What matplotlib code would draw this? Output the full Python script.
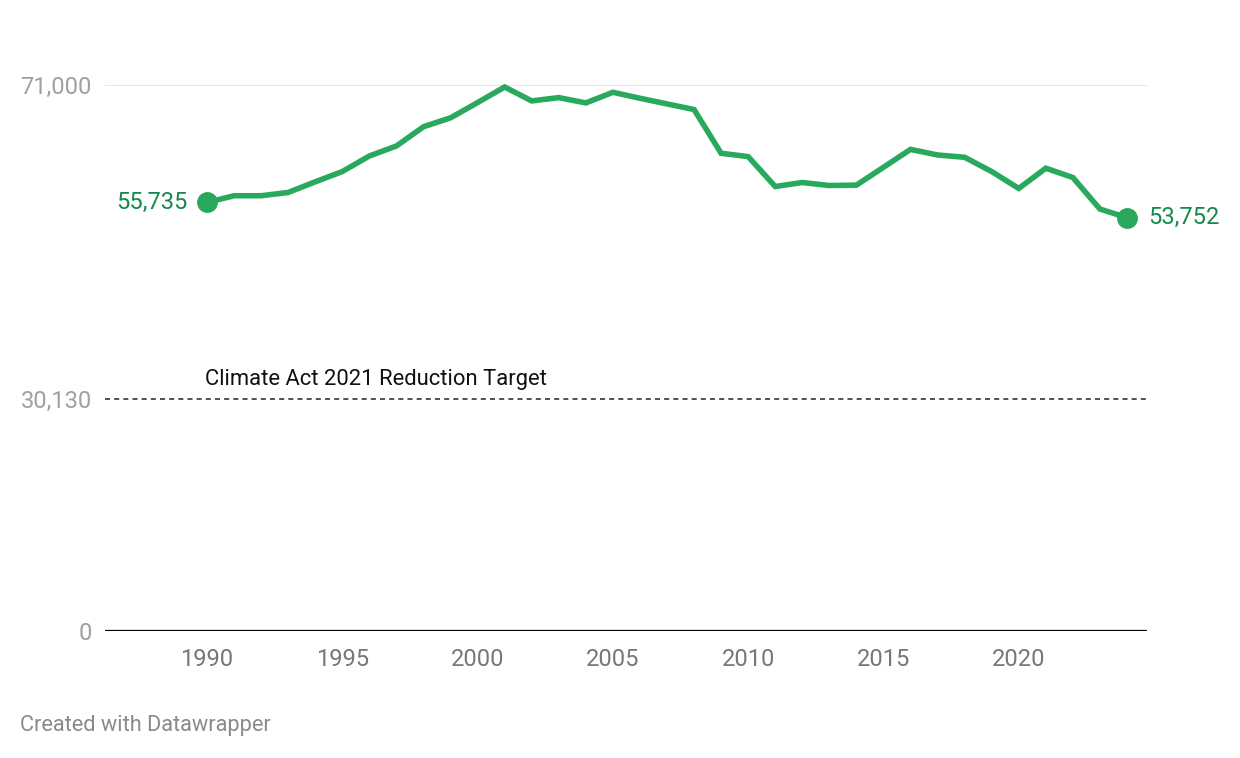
import matplotlib.pyplot as plt
from matplotlib.ticker import FixedLocator, FixedFormatter

plt.rcParams['font.family'] = ['Roboto', 'DejaVu Sans']

# emissions by year
years = list(range(1990, 2025))
values = [55735, 56600, 56600, 57030, 58410, 59745, 61770, 63070, 65570, 66730,
          68715, 70740, 68930, 69360, 68670, 70050, 69280, 68540, 67810, 62120,
          61690, 57800, 58320, 57930, 57980, 60300, 62630, 61900, 61600, 59745,
          57550, 60180, 58970, 54870, 53752]

target = 30130
target_label = "Climate Act 2021 Reduction Target"
y_ticks = [0, 30130, 71000]
y_tick_labels = ["0", "30,130", "71,000"]
x_ticks = [1990, 1995, 2000, 2005, 2010, 2015, 2020]

green = '#29a95d'
green_text = '#15894a'
grey = '#a0a0a0'

fig = plt.figure(figsize=(12.4, 7.58), dpi=100)
ax = fig.add_axes([105/1240, 1 - 631/758, (1147-105)/1240, (631-85)/758])

ax.set_xlim(1986.23, 2024.74)
ax.set_ylim(0, 71000)

# gridline at top, target line, baseline
ax.axhline(71000, color='#e3e3e3', lw=1.3, zorder=1)
ax.axhline(target, color='#333333', lw=1.2, ls=(0, (3, 2.5)), zorder=1)
ax.axhline(0, color='#000000', lw=1.6, zorder=2)

ax.plot(years, values, color=green, lw=4.0, solid_joinstyle='miter',
        solid_capstyle='butt', clip_on=False, zorder=3)
ax.plot([years[0], years[-1]], [values[0], values[-1]], 'o', color=green,
        ms=14, clip_on=False, zorder=4)

ax.annotate(f"{values[0]:,}", (years[0], values[0]), xytext=(-14, 0),
            textcoords='offset points', ha='right', va='center',
            color=green_text, fontsize=17)
ax.annotate(f"{values[-1]:,}", (years[-1], values[-1]), xytext=(15, 0),
            textcoords='offset points', ha='left', va='center',
            color=green_text, fontsize=17)

ax.annotate(target_label, (1989.93, target), xytext=(0, 14.5),
            textcoords='offset points', ha='left', va='center',
            color='#111111', fontsize=15.8)

ax.yaxis.set_major_locator(FixedLocator(y_ticks))
ax.yaxis.set_major_formatter(FixedFormatter(y_tick_labels))
ax.set_xticks(x_ticks)
ax.tick_params(axis='y', length=0, pad=9.5, labelsize=17, labelcolor=grey)
ax.tick_params(axis='x', length=0, pad=12.5, labelsize=17, labelcolor='#777777')

for s in ax.spines.values():
    s.set_visible(False)

fig.text(20/1240, 1 - 726/758, "Created with Datawrapper", ha='left',
         va='center', color='#8a8a8a', fontsize=15.7)

fig.savefig('out.png', dpi=100)
